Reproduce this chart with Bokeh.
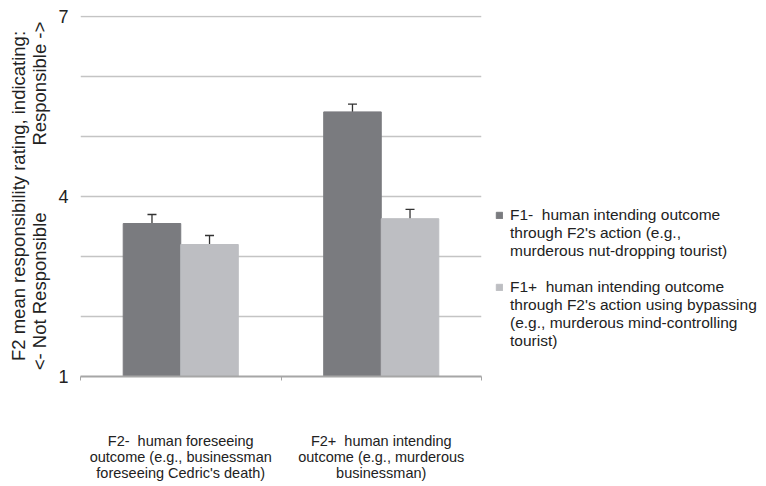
from bokeh.plotting import figure
from bokeh.models import (ColumnDataSource, FixedTicker, Whisker, TeeHead, Legend,
                          LegendItem, Range1d)
from bokeh.embed import file_html
from bokeh.resources import INLINE

NB = "\u00a0"

# ---- data ----
groups = [
    "F2-" + NB + " human foreseeing\noutcome (e.g., businessman\nforeseeing Cedric's death)",
    "F2+" + NB + " human intending\noutcome (e.g., murderous\nbusinessman)",
]
series_lines = [
    ["F1-" + NB + " human intending outcome",
     "through F2's action (e.g.,",
     "murderous nut-dropping tourist)"],
    ["F1+" + NB + " human intending outcome",
     "through F2's action using bypassing",
     "(e.g., murderous mind-controlling",
     "tourist)"],
]
f1_minus = [3.55, 5.41]
f1_plus = [3.20, 3.63]
f1_minus_err = [0.15, 0.13]
f1_plus_err = [0.15, 0.155]
y_ticks = [1, 4, 7]
grid_ticks = [1, 2, 3, 4, 5, 6, 7]
colors = ["#7a7b7f", "#bdbec2"]

FONT = "Liberation Sans"
TXT = "#222222"
BAR_W = 0.287
OFF = BAR_W / 2

n = len(groups)
centers = [i + 0.5 for i in range(n)]

p = figure(width=766, height=486, output_backend="svg", toolbar_location=None,
           x_range=Range1d(0, n), y_range=Range1d(1, 7 + 1 / 60),
           min_border_left=80, min_border_top=15, min_border_bottom=108,
           frame_width=401, frame_height=361)
p.outline_line_color = None
p.background_fill_color = "white"

vals = [f1_minus, f1_plus]
errs = [f1_minus_err, f1_plus_err]
offs = [-OFF, OFF]
renderers = []
for k in range(2):
    xs = [c + offs[k] for c in centers]
    src = ColumnDataSource(dict(x=xs, top=vals[k],
                                lo=[v - e for v, e in zip(vals[k], errs[k])],
                                hi=[v + e for v, e in zip(vals[k], errs[k])]))
    r = p.vbar(x="x", top="top", bottom=1, width=BAR_W, source=src,
               fill_color=colors[k], line_color=colors[k], line_width=1)
    renderers.append(r)
    w = Whisker(base="x", lower="lo", upper="hi", source=src,
                line_color="#333333", line_width=1.3,
                upper_head=TeeHead(size=9, line_color="#333333", line_width=1.3),
                lower_head=TeeHead(size=9, line_color="#333333", line_width=1.3))
    p.add_layout(w)

# invisible renderer used only for continuation lines in the legend
dummy = p.scatter(x=[centers[0]], y=[2], size=1, fill_alpha=0, line_alpha=0)

# grid
p.xgrid.visible = False
p.ygrid.ticker = FixedTicker(ticks=grid_ticks)
p.ygrid.grid_line_color = "#c4c4c4"
p.ygrid.grid_line_width = 1.4
p.ygrid.level = "underlay"

# y axis
yax = p.yaxis[0]
yax.ticker = FixedTicker(ticks=y_ticks)
yax.axis_line_color = None
yax.major_tick_line_color = None
yax.minor_tick_line_color = None
yax.major_label_text_font = FONT
yax.major_label_text_font_size = "18px"
yax.major_label_text_color = TXT
yax.major_label_standoff = 6
yax.axis_label = ("F2 mean responsibility rating, indicating:\n"
                  "<- Not Responsible" + NB * 13 + "Responsible ->")
yax.axis_label_text_font = FONT
yax.axis_label_text_font_size = "18.5px"
yax.axis_label_text_font_style = "normal"
yax.axis_label_text_color = TXT
yax.axis_label_text_line_height = 1.0
yax.axis_label_standoff = 5

# x axis
xax = p.xaxis[0]
xax.ticker = FixedTicker(ticks=centers, minor_ticks=[0, 1, 2])
xax.major_label_overrides = {c: g for c, g in zip(centers, groups)}
xax.axis_line_color = "#a6a6a6"
xax.axis_line_width = 2
xax.major_tick_line_color = None
xax.minor_tick_line_color = "#a6a6a6"
xax.minor_tick_in = 0
xax.minor_tick_out = 4
xax.major_label_text_font = FONT
xax.major_label_text_font_size = "14.5px"
xax.major_label_text_color = TXT
xax.major_label_text_line_height = 1.0
xax.major_label_standoff = 50

items = []
for k in range(2):
    lines = series_lines[k]
    items.append(LegendItem(label=lines[0], renderers=[renderers[k]]))
    for ln in lines[1:]:
        items.append(LegendItem(label=ln, renderers=[dummy]))
    if k == 0:
        items.append(LegendItem(label=NB, renderers=[dummy]))

legend = Legend(items=items, location=(14, 26), border_line_color=None,
                background_fill_alpha=0, label_text_font=FONT, label_text_font_size="15.5px",
                label_text_color=TXT, label_height=16,
                glyph_width=8, glyph_height=8, label_standoff=7, spacing=0, padding=0,
                margin=0)
p.add_layout(legend, "right")

open("out.html", "w").write(file_html(p, INLINE))
